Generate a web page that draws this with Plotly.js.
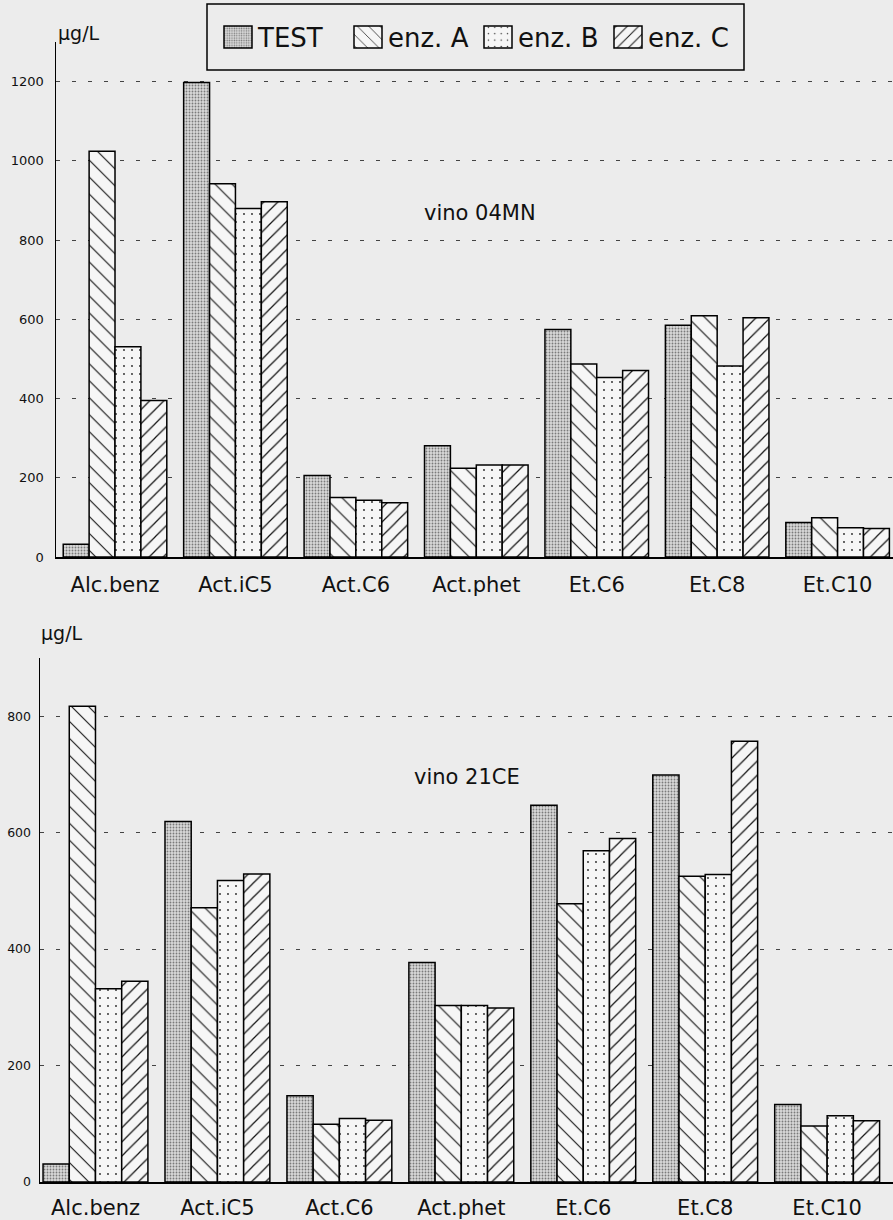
<!DOCTYPE html>
<html>
<head>
<meta charset="utf-8">
<script src="https://cdn.plot.ly/plotly-3.0.1.min.js"></script>
<style>html,body{margin:0;padding:0;background:#ececec;}#chart{width:893px;height:1220px;}</style>
</head>
<body>
<div id="chart"></div>
<script>
// ---- data ----
const categories = ['Alc.benz', 'Act.iC5', 'Act.C6', 'Act.phet', 'Et.C6', 'Et.C8', 'Et.C10'];
const seriesNames = ['TEST', 'enz. A', 'enz. B', 'enz. C'];
// vino 04MN (µg/L)
const test04 = [32, 1198, 206, 281, 574, 585, 87];
const enzA04 = [1024, 942, 150, 224, 487, 609, 99];
const enzB04 = [531, 880, 143, 232, 453, 482, 74];
const enzC04 = [395, 897, 137, 232, 471, 604, 72];
// vino 21CE (µg/L)
const test21 = [31, 619, 148, 377, 647, 699, 133];
const enzA21 = [817, 471, 99, 303, 478, 525, 96];
const enzB21 = [332, 518, 109, 303, 569, 528, 114];
const enzC21 = [345, 529, 106, 299, 590, 757, 105];
const ticks04 = [0, 200, 400, 600, 800, 1000, 1200];
const ticks21 = [0, 200, 400, 600, 800];

// ---- styling ----
const W = 893, H = 1220;
const px = x => x / W;
const py = y => 1 - y / H;
const BG = '#f6f6f6';
const patterns = [
  {shape: '.', size: 3, solidity: 0.3, fgcolor: '#7a7a7a', bgcolor: '#d9d9d9'},
  {shape: '\\', size: 12, solidity: 0.09, fgcolor: '#111', bgcolor: BG},
  {shape: '.', size: 8, solidity: 0.04, fgcolor: '#222', bgcolor: BG},
  {shape: '/', size: 10, solidity: 0.12, fgcolor: '#111', bgcolor: BG}
];

function mk(vals, i, xa, ya, show) {
  return {
    type: 'bar', x: categories, y: vals, name: seriesNames[i],
    xaxis: xa, yaxis: ya, showlegend: show, legendgroup: 'g' + i,
    marker: {color: BG, pattern: Object.assign({fillmode: 'replace'}, patterns[i]),
             line: {color: '#000', width: 1.5}},
    hoverinfo: 'skip'
  };
}
const series04 = [test04, enzA04, enzB04, enzC04];
const series21 = [test21, enzA21, enzB21, enzC21];
const data = [];
series04.forEach((v, i) => data.push(mk(v, i, 'x', 'y', true)));
series21.forEach((v, i) => data.push(mk(v, i, 'x2', 'y2', false)));

const axX = {type: 'category', showline: true, linecolor: '#000', linewidth: 1.5,
  ticks: '', showgrid: false, zeroline: false, tickfont: {size: 21, color: '#111'}, automargin: false};
const axY = {showline: true, linecolor: '#000', linewidth: 1.5, ticks: '',
  showgrid: true, gridcolor: '#444', gridwidth: 1, griddash: '4px,12px',
  zeroline: false, tickfont: {size: 13, color: '#111'}, automargin: false};

const layout = {
  width: W, height: H,
  margin: {l: 0, r: 0, t: 0, b: 0, autoexpand: false},
  paper_bgcolor: '#ececec', plot_bgcolor: 'rgba(0,0,0,0)',
  font: {family: 'DejaVu Sans', color: '#111'},
  barmode: 'group', bargap: 0.14, bargroupgap: 0,
  xaxis: Object.assign({}, axX, {domain: [px(56), 1], anchor: 'y', range: [-0.49, 6.46], ticklabelstandoff: 8}),
  yaxis: Object.assign({}, axY, {domain: [py(557), py(42)], anchor: 'x', range: [0, 1300], tickvals: ticks04, ticklabelstandoff: 8}),
  xaxis2: Object.assign({}, axX, {domain: [px(40), 1], anchor: 'y2', range: [-0.455, 6.54], ticklabelstandoff: 6}),
  yaxis2: Object.assign({}, axY, {domain: [py(1182), py(658)], anchor: 'x2', range: [0, 900], tickvals: ticks21, ticklabelstandoff: 5,
    tickfont: {size: 12.5, color: '#111'}}),
  showlegend: true,
  legend: {orientation: 'h', x: px(218), xanchor: 'left', y: py(37), yanchor: 'middle',
    bgcolor: 'rgba(0,0,0,0)', borderwidth: 0, font: {size: 26, color: '#111'},
    entrywidth: 85, entrywidthmode: 'pixels', itemclick: false, itemdoubleclick: false},
  shapes: [
    {type: 'rect', xref: 'paper', yref: 'paper', x0: px(207), x1: px(744), y0: py(70), y1: py(4),
     line: {color: '#000', width: 1.5}, fillcolor: 'rgba(0,0,0,0)'}
  ],
  annotations: [
    {text: 'µg/L', xref: 'paper', yref: 'paper', x: px(56), xanchor: 'left', y: py(20), showarrow: false, font: {size: 19}},
    {text: 'µg/L', xref: 'paper', yref: 'paper', x: px(39), xanchor: 'left', y: py(633), showarrow: false, font: {size: 19}},
    {text: 'vino 04MN', xref: 'x', yref: 'y', x: 3.03, y: 868, showarrow: false, font: {size: 21}},
    {text: 'vino 21CE', xref: 'x2', yref: 'y2', x: 3.05, y: 695, showarrow: false, font: {size: 21}}
  ]
};

Plotly.newPlot('chart', data, layout, {staticPlot: true}).then(function () {
  document.querySelectorAll('#chart .legend path.legendbar, #chart .legend .legendpoints path').forEach(function (p) {
    p.setAttribute('d', 'M14,11H-14V-11H14Z');
  });
});
</script>
</body>
</html>
